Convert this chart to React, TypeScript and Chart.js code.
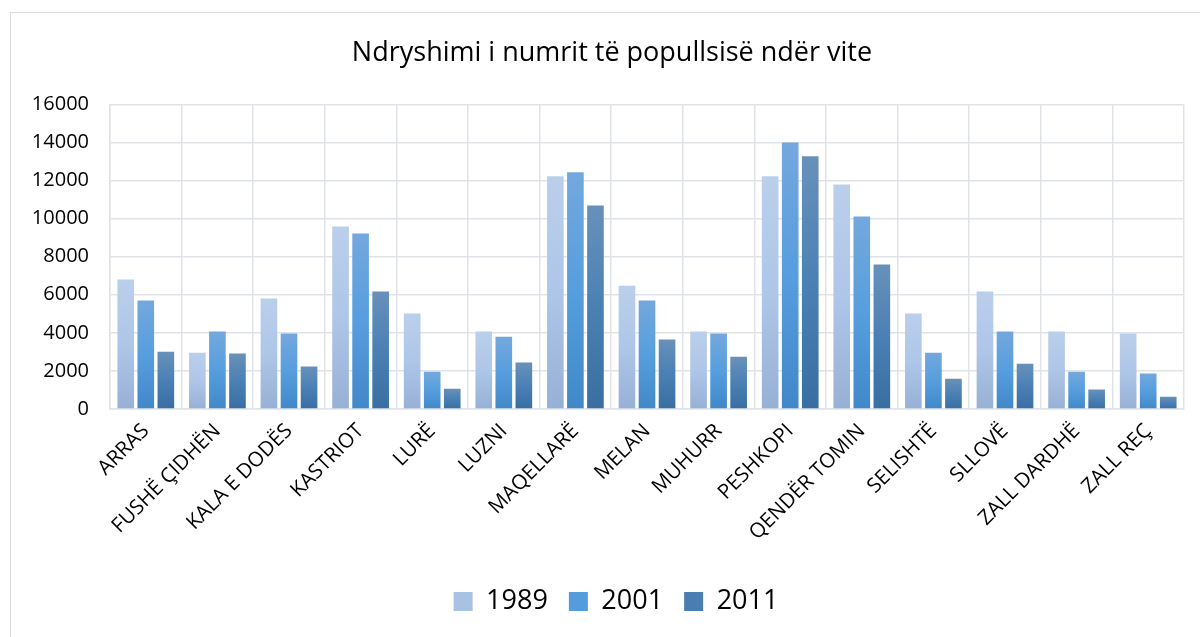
import React, { useEffect, useRef } from "react";
import { Chart, registerables } from "chart.js";

Chart.register(...registerables);

const titleText = "Ndryshimi i numrit të popullsisë ndër vite";

const categories = [
  "ARRAS",
  "FUSHË ÇIDHËN",
  "KALA E DODËS",
  "KASTRIOT",
  "LURË",
  "LUZNI",
  "MAQELLARË",
  "MELAN",
  "MUHURR",
  "PESHKOPI",
  "QENDËR TOMIN",
  "SELISHTË",
  "SLLOVË",
  "ZALL DARDHË",
  "ZALL REÇ",
];

const seriesLabels = ["1989", "2001", "2011"];

const values1989 = [6800, 2960, 5800, 9590, 5010, 4070, 12220, 6480, 4070, 12220, 11790, 5010, 6170, 4070, 3960];
const values2001 = [5700, 4070, 3960, 9220, 1960, 3800, 12430, 5700, 3960, 14000, 10110, 2960, 4070, 1960, 1860];
const values2011 = [3010, 2910, 2230, 6170, 1070, 2440, 10690, 3650, 2750, 13270, 7590, 1590, 2380, 1020, 650];

const yTicks = [0, 2000, 4000, 6000, 8000, 10000, 12000, 14000, 16000];

const gradient1989 = ["#bacfeb", "#aec6e8", "#97b0d5"];
const gradient2001 = ["#74a8dd", "#569ede", "#4088c8"];
const gradient2011 = ["#6891b9", "#4b80b5", "#396ea3"];
const legendColors = ["#a9c1e3", "#559cdc", "#4a7db1"];

const FONT = "'Open Sans', 'DejaVu Sans', sans-serif";

function barGradient(stops: string[]) {
  return (ctx: any) => {
    const chart = ctx.chart;
    const area = chart.chartArea;
    const fallback = stops[1];
    if (!area || ctx.type !== "data") return fallback;
    const yScale = chart.scales.y;
    if (!yScale) return fallback;
    const v = ctx.raw as number;
    const top = yScale.getPixelForValue(v);
    const bottom = yScale.getPixelForValue(0);
    if (!isFinite(top) || !isFinite(bottom) || Math.abs(bottom - top) < 0.5) return fallback;
    const g = chart.ctx.createLinearGradient(0, top, 0, bottom);
    stops.forEach((c, i) => g.addColorStop(i / (stops.length - 1), c));
    return g;
  };
}

const blockShift = {
  id: "blockShift",
  afterLayout(chart: any) {
    const lg = chart.legend;
    if (lg) {
      lg.left += 24;
      lg.right += 24;
    }
    const tb = chart.titleBlock;
    if (tb) {
      tb.left += 20;
      tb.right += 20;
    }
  },
};

export default function App() {
  const canvasRef = useRef<HTMLCanvasElement | null>(null);

  useEffect(() => {
    const canvas = canvasRef.current;
    if (!canvas) return;
    const gridColor = "#dfe3e8";
    const chart = new Chart(canvas, {
      type: "bar",
      data: {
        labels: categories,
        datasets: [
          { label: seriesLabels[0], data: values1989, backgroundColor: barGradient(gradient1989), borderWidth: 0 },
          { label: seriesLabels[1], data: values2001, backgroundColor: barGradient(gradient2001), borderWidth: 0 },
          { label: seriesLabels[2], data: values2011, backgroundColor: barGradient(gradient2011), borderWidth: 0 },
        ],
      },
      plugins: [blockShift],
      options: {
        responsive: false,
        animation: false,
        devicePixelRatio: 1,
        layout: { padding: { left: 0, right: 16, top: 0, bottom: 12 } },
        datasets: {
          bar: { categoryPercentage: 0.84, barPercentage: 0.83 },
        },
        plugins: {
          title: {
            display: true,
            text: titleText,
            color: "#000",
            font: { family: FONT, size: 27, weight: "normal" },
            padding: { top: 37, bottom: 35 },
          },
          legend: {
            position: "bottom",
            labels: {
              font: { family: FONT, size: 27 },
              color: "#000",
              boxWidth: 19,
              boxHeight: 19,
              padding: 21,
              generateLabels: (c: any) =>
                c.data.datasets.map((ds: any, i: number) => ({
                  text: ds.label,
                  fillStyle: legendColors[i],
                  strokeStyle: legendColors[i],
                  lineWidth: 0,
                  hidden: false,
                  datasetIndex: i,
                  fontColor: "#000",
                })),
            },
          },
          tooltip: { enabled: false },
        },
        scales: {
          x: {
            grid: { color: gridColor, lineWidth: 1.5, drawTicks: false, offset: true },
            border: { color: gridColor, width: 1.5 },
            ticks: {
              color: "#000",
              font: { family: FONT, size: 20.5 },
              maxRotation: 45,
              minRotation: 45,
              autoSkip: false,
              padding: 10,
            },
            afterFit: (scale: any) => {
              scale.height = 158;
            },
          },
          y: {
            min: 0,
            max: 16000,
            afterBuildTicks: (scale: any) => {
              scale.ticks = yTicks.map((v) => ({ value: v }));
            },
            grid: { color: gridColor, lineWidth: 1.5, drawTicks: false },
            border: { color: gridColor, width: 1.5 },
            ticks: {
              color: "#000",
              font: { family: FONT, size: 20 },
              padding: 21,
              callback: (v: any) => String(v),
            },
            afterFit: (scale: any) => {
              scale.width = 110;
            },
          },
        },
      },
    });
    return () => chart.destroy();
  }, []);

  return (
    <div style={{ position: "fixed", left: 0, top: 0, width: 1200, height: 637, background: "#fff", overflow: "hidden" }}>
      <div
        style={{
          position: "absolute",
          left: 10,
          top: 12,
          width: 1300,
          height: 800,
          borderTop: "1.5px solid #d9dee5",
          borderLeft: "1.5px solid #d9dee5",
        }}
      />
      <canvas ref={canvasRef} width={1200} height={637} style={{ position: "absolute", left: 0, top: 0, display: "block" }} />
    </div>
  );
}
